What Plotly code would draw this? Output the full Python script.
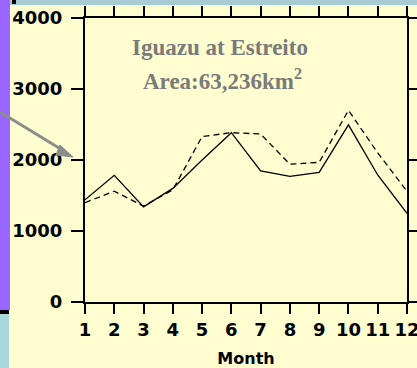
import plotly.graph_objects as go

months = list(range(1, 13))
solid_values = [1440, 1785, 1340, 1600, 2000, 2385, 1845, 1770, 1826, 2495, 1789, 1250]
dashed_values = [1400, 1560, 1350, 1580, 2330, 2385, 2366, 1940, 1967, 2700, 2100, 1560]
y_ticks = [0, 1000, 2000, 3000, 4000]
title_line1 = "Iguazu at Estreito"
title_line2 = "Area:63,236km<sup>2</sup>"
x_title = "Month"

W, H = 417, 368
L, R, T, B = 85, 10, 18, 66
PW, PH = W - L - R, H - T - B


def px(x):
    return (x - L) / PW


def py(y):
    return (H - B - y) / PH


fig = go.Figure()
fig.add_trace(go.Scatter(x=months, y=solid_values, mode="lines",
                         line=dict(color="black", width=1.3), showlegend=False))
fig.add_trace(go.Scatter(x=months, y=dashed_values, mode="lines",
                         line=dict(color="black", width=1.3, dash="6px,4px"), showlegend=False))

bg = "#FDFDD0"
shapes = [
    dict(type="rect", xref="paper", yref="paper", x0=px(0), x1=px(W), y0=py(5), y1=py(0),
         fillcolor="#A8CCD4", line_width=0, layer="below"),
    dict(type="rect", xref="paper", yref="paper", x0=px(0), x1=px(10), y0=py(310), y1=py(0),
         fillcolor="#9966FF", line_width=0, layer="below"),
    dict(type="rect", xref="paper", yref="paper", x0=px(0), x1=px(9), y0=py(314), y1=py(310),
         fillcolor="black", line_width=0, layer="below"),
    dict(type="rect", xref="paper", yref="paper", x0=px(0), x1=px(9), y0=py(H), y1=py(314),
         fillcolor="#A8D8DC", line_width=0, layer="below"),
    dict(type="rect", xref="paper", yref="paper", x0=px(12), x1=px(16), y0=py(4), y1=py(0),
         fillcolor="black", line_width=0, layer="below"),
    # grey arrow on the left
    dict(type="line", xref="paper", yref="paper", x0=px(0), y0=py(112), x1=px(64), y1=py(151),
         line=dict(color="#8C8C8C", width=3)),
    dict(type="path", xref="paper", yref="paper",
         path="M {} {} L {} {} L {} {} Z".format(px(73), py(157), px(60), py(145), px(56), py(155)),
         fillcolor="#8C8C8C", line=dict(color="#8C8C8C", width=1)),
]

annotations = [
    dict(xref="paper", yref="paper", x=px(220), y=py(48), text=title_line1, showarrow=False,
         font=dict(family="Liberation Serif", size=23, color="#7A7A7A", weight="bold"),
         xanchor="center", yanchor="middle"),
    dict(xref="paper", yref="paper", x=px(222), y=py(79), text=title_line2, showarrow=False,
         font=dict(family="Liberation Serif", size=23, color="#7A7A7A", weight="bold"),
         xanchor="center", yanchor="middle"),
]

fig.update_layout(
    width=W, height=H,
    margin=dict(l=L, r=R, t=T, b=B, pad=0, autoexpand=False),
    paper_bgcolor=bg, plot_bgcolor=bg,
    shapes=shapes, annotations=annotations,
    xaxis=dict(range=[1, 12], tickmode="array", tickvals=months, ticktext=[str(m) for m in months],
               ticks="outside", ticklen=10, tickwidth=1.5, tickcolor="black",
               showline=True, linecolor="black", linewidth=2, mirror="ticks",
               showgrid=False, zeroline=False, automargin=False, ticklabeloverflow="allow",
               tickfont=dict(family="DejaVu Sans", size=18, color="black", weight="bold"),
               title=dict(text=x_title, standoff=14,
                          font=dict(family="DejaVu Sans", size=16, color="black", weight="bold"))),
    yaxis=dict(range=[0, 4000], tickmode="array", tickvals=y_ticks, ticktext=[str(v) for v in y_ticks],
               ticks="outside", ticklen=12, tickwidth=1.5, tickcolor="black",
               showline=True, linecolor="black", linewidth=2, mirror="ticks",
               showgrid=False, zeroline=False, automargin=False, ticklabelstandoff=5,
               ticklabeloverflow="allow",
               tickfont=dict(family="DejaVu Sans", size=18, color="black", weight="bold")),
)

fig.write_html("out.html", config={"displayModeBar": False},
               post_script="document.body.style.margin='0';document.body.style.overflow='hidden';")
